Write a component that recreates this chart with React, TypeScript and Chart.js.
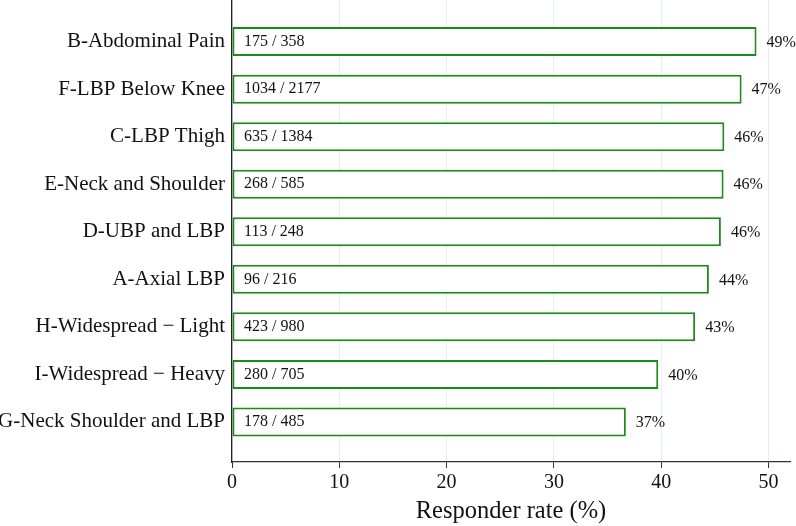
import React, { useEffect, useRef } from "react";
import { Chart, registerables } from "chart.js";

Chart.register(...registerables);

const categories = [
  "B-Abdominal Pain",
  "F-LBP Below Knee",
  "C-LBP Thigh",
  "E-Neck and Shoulder",
  "D-UBP and LBP",
  "A-Axial LBP",
  "H-Widespread \u2212 Light",
  "I-Widespread \u2212 Heavy",
  "G-Neck Shoulder and LBP",
];
const rates = [48.88, 47.49, 45.88, 45.81, 45.56, 44.44, 43.16, 39.72, 36.7];
const responders = [175, 1034, 635, 268, 113, 96, 423, 280, 178];
const totals = [358, 2177, 1384, 585, 248, 216, 980, 705, 485];
const pctLabels = ["49%", "47%", "46%", "46%", "46%", "44%", "43%", "40%", "37%"];
const xTicks = [0, 10, 20, 30, 40, 50];

const FONT = '"Liberation Serif", "Times New Roman", serif';

const labelPlugin = {
  id: "barLabels",
  afterDatasetsDraw(chart: any) {
    const ctx = chart.ctx;
    const meta = chart.getDatasetMeta(0);
    ctx.save();
    ctx.fillStyle = "#111";
    ctx.font = `16px ${FONT}`;
    ctx.textBaseline = "middle";
    meta.data.forEach((bar: any, i: number) => {
      ctx.textAlign = "left";
      ctx.fillText(`${responders[i]} / ${totals[i]}`, chart.chartArea.left + 12, bar.y);
      ctx.fillText(pctLabels[i], bar.x + 10, bar.y + 1);
    });
    ctx.restore();
  },
};

export default function App() {
  const ref = useRef<HTMLCanvasElement>(null);
  useEffect(() => {
    document.body.style.margin = "0";
    const canvas = ref.current!;
    const chart = new Chart(canvas, {
      type: "bar",
      data: {
        datasets: [
          {
            data: rates.map((v, i) => ({ x: v, y: i })),
            backgroundColor: "#ffffff",
            borderColor: "#1b8a1b",
            borderWidth: 2,
            borderSkipped: false,
            categoryPercentage: 0.61,
            barPercentage: 1,
          },
        ],
      },
      options: {
        indexAxis: "y",
        responsive: false,
        animation: false,
        devicePixelRatio: 1,
        layout: { padding: { left: 0, right: 6, top: 0, bottom: 0 } },
        plugins: { legend: { display: false }, tooltip: { enabled: false } },
        scales: {
          x: {
            type: "linear",
            min: 0,
            max: 52,
            offset: false,
            afterFit: (s: any) => {
              s.height = 64;
            },
            afterBuildTicks: (s: any) => {
              s.ticks = xTicks.map((v) => ({ value: v }));
            },
            ticks: {
              stepSize: 10,
              includeBounds: false,
              padding: 3,
              color: "#111",
              font: { family: FONT, size: 20 },
            },
            grid: {
              color: "#e6eff3",
              lineWidth: 1,
              drawTicks: true,
              tickLength: 6,
              tickColor: "#333",
              offset: false,
            },
            border: { display: true, color: "#333", width: 1.3 },
            title: {
              display: true,
              text: "Responder rate (%)",
              color: "#111",
              font: { family: FONT, size: 24.5 },
              padding: { top: 0, bottom: 0 },
            },
          },
          y: {
            type: "linear",
            reverse: true,
            min: -0.875,
            max: 8.843,
            offset: false,
            bounds: "data",
            afterFit: (s: any) => {
              s.width = 232;
              s.paddingTop = 0;
              s.paddingBottom = 0;
            },
            afterBuildTicks: (s: any) => {
              s.ticks = categories.map((_, i) => ({ value: i }));
            },
            ticks: {
              stepSize: 1,
              includeBounds: false,
              autoSkip: false,
              padding: 7,
              color: "#111",
              font: { family: FONT, size: 21 },
              callback: (v: any) => categories[v as number] ?? "",
            },
            grid: { display: false, drawTicks: false, offset: false },
            border: { display: true, color: "#222", width: 1.3 },
          },
        },
      },
      plugins: [labelPlugin],
    });
    return () => chart.destroy();
  }, []);
  return (
    <canvas
      ref={ref}
      width={796}
      height={526}
      style={{ display: "block", width: 796, height: 526 }}
    />
  );
}
